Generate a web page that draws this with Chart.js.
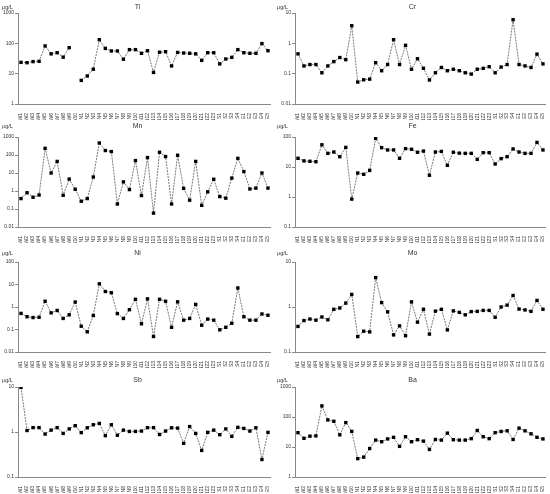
<!DOCTYPE html>
<html>
<head>
<meta charset="utf-8">
<script src="https://cdn.jsdelivr.net/npm/chart.js@4/dist/chart.umd.min.js"></script>
<style>
body { margin: 0; background: #fff; }
#wrap { position: relative; width: 550px; height: 494px; }
#wrap canvas { position: absolute; }
</style>
</head>
<body>
<div id="wrap"></div>
<script>
// sampling sites (x axis tick labels)
const sites = ["W1","W2","W3","W4","W5","W6","W7","W8","W9","W10",
  "N1","N2","N3","N4","N5","N6","N7","N8","N9","N10","N11","N12","N13","N14","N15","N16","N17","N18","N19","N20","N21","N22","N23",
  "S1","S2","S3","S4","E1","E2","E3","E4","E5"];

// concentrations, ug/L
const ti = [23.6,23,25,25.5,82,45,49,35,72,null,
  6,8.4,14,132,68,56,56,30,62,62,47,57,11,51,53,18,50,48,47,45,27.5,49,49,
  21,30.5,34.5,62,49,47,47,98,57];
const cr = [0.45,0.18,0.2,0.2,0.107,0.18,0.25,0.34,0.29,3.8,
  0.053,0.063,0.066,0.23,0.125,0.2,1.32,0.2,0.86,0.14,0.31,0.15,0.062,0.107,0.16,0.125,0.14,0.125,0.107,0.097,0.14,0.15,0.17,
  0.107,0.165,0.2,6,0.2,0.18,0.16,0.44,0.21];
const mn = [0.38,0.8,0.45,0.6,235,10,44,0.58,4.6,1.25,
  0.27,0.38,6,465,177,155,0.19,3.2,1.2,49,0.56,72,0.059,142,82,0.19,97,1.4,0.31,44,0.16,0.9,4.5,
  0.49,0.4,5.2,65,12,1.3,1.45,10,1.45];
const fe = [19.5,16,15.5,15,55,28.5,31.6,22,45,0.85,
  6.3,5.7,7.7,90,44,37,37,19.5,41,39,31,34,5.3,31.6,33,11.4,31,29,28.5,28.5,18,30,30,
  12.6,19,22,40,31.6,28.5,28.5,66,37];
const ni = [0.52,0.37,0.34,0.35,1.8,0.55,0.7,0.31,0.45,1.66,
  0.14,0.079,0.42,10.7,4.9,4.3,0.51,0.31,0.76,2.2,0.18,2.3,0.049,2.2,1.8,0.125,1.7,0.26,0.31,1.3,0.155,0.29,0.26,
  0.097,0.125,0.19,7,0.37,0.26,0.26,0.49,0.43];
const mo = [0.37,0.5,0.54,0.51,0.6,0.52,0.89,0.95,1.22,1.9,
  0.22,0.29,0.28,4.5,1.25,0.78,0.24,0.38,0.23,1.3,0.46,0.89,0.25,0.81,0.89,0.31,0.82,0.76,0.67,0.79,0.8,0.84,0.84,
  0.59,1.0,1.1,1.8,0.9,0.86,0.8,1.4,0.89];
const sb = [9.8,1.08,1.25,1.25,0.9,1.1,1.25,0.93,1.17,1.38,
  0.97,1.24,1.45,1.55,0.83,1.45,0.85,1.1,1.03,1.03,1.05,1.25,1.25,0.88,1.05,1.24,1.22,0.56,1.32,0.93,0.39,0.98,1.1,
  0.87,1.17,0.8,1.27,1.2,1.05,1.24,0.245,0.98];
const ba = [30,19.5,23,23.5,234,80,72,25.5,65,33,
  4.1,4.6,8.9,17,15,18.6,21,10.5,22,15,17.5,15.7,8.3,17.8,17,29,17.5,17,17,19,35.5,22,19,
  30,33,34.6,17.8,42.5,34.6,27.5,21,18.6];

const panels = [
  { title: "Ti", data: ti, min: 1,    max: 1000, col: 0, row: 0 },
  { title: "Cr", data: cr, min: 0.01, max: 10,   col: 1, row: 0 },
  { title: "Mn", data: mn, min: 0.01, max: 1000, col: 0, row: 1 },
  { title: "Fe", data: fe, min: 0.1,  max: 100,  col: 1, row: 1 },
  { title: "Ni", data: ni, min: 0.01, max: 100,  col: 0, row: 2 },
  { title: "Mo", data: mo, min: 0.1,  max: 10,   col: 1, row: 2 },
  { title: "Sb", data: sb, min: 0.1,  max: 10,   col: 0, row: 3 },
  { title: "Ba", data: ba, min: 1,    max: 1000, col: 1, row: 3 }
];

// canvas top, plot top and plot bottom of each row (page px)
const rows = [
  { top: 1,   plotTop: 13,  plotBottom: 104 },
  { top: 120, plotTop: 137, plotBottom: 227 },
  { top: 247, plotTop: 262, plotBottom: 352 },
  { top: 374, plotTop: 387, plotBottom: 477 }
];

const FONT = "'Liberation Sans', Arial, sans-serif";

const panelText = {
  id: "panelText",
  afterDraw(chart, args, opts) {
    const ctx = chart.ctx;
    ctx.save();
    ctx.fillStyle = "#333";
    ctx.textBaseline = "middle";
    ctx.font = "7px " + FONT;
    ctx.textAlign = "center";
    ctx.fillText(opts.title, chart.width / 2, 6);
    ctx.font = "5.5px " + FONT;
    ctx.textAlign = "left";
    ctx.fillText("\u03bcg/L", 2, 6);
    ctx.restore();
  }
};

function isDecade(v) {
  const l = Math.log10(v);
  return Math.abs(l - Math.round(l)) < 1e-6;
}

function makePanel(p) {
  const r = rows[p.row];
  const canvas = document.createElement("canvas");
  canvas.width = 275;
  canvas.height = r.plotBottom + 16 - r.top;
  canvas.style.left = (p.col * 275) + "px";
  canvas.style.top = r.top + "px";
  document.getElementById("wrap").appendChild(canvas);

  new Chart(canvas, {
    type: "line",
    data: {
      labels: sites,
      datasets: [{
        data: p.data,
        borderColor: "#555",
        borderWidth: 0.8,
        borderDash: [2, 1],
        tension: 0,
        spanGaps: false,
        pointStyle: "rect",
        pointRadius: 2.4,
        pointBorderWidth: 0,
        pointBackgroundColor: "#000",
        pointBorderColor: "#000"
      }]
    },
    options: {
      responsive: false,
      animation: false,
      devicePixelRatio: 1,
      layout: { padding: { top: r.plotTop - r.top, right: 3, left: p.col ? 2 : 0, bottom: 0 } },
      plugins: {
        legend: { display: false },
        tooltip: { enabled: false },
        panelText: { title: p.title }
      },
      scales: {
        x: {
          offset: true,
          grid: { display: false },
          border: { color: "#888", width: 1 },
          ticks: {
            autoSkip: false, maxRotation: 90, minRotation: 90, padding: 1,
            color: "#333", font: { size: 5, family: FONT }
          },
          afterFit(s) { s.height = 16; }
        },
        y: {
          type: "logarithmic",
          min: p.min,
          max: p.max,
          grid: { drawOnChartArea: false, tickLength: 3, color: "#888" },
          border: { color: "#888", width: 1 },
          ticks: {
            padding: 1, color: "#333", font: { size: 5, family: FONT },
            callback: v => isDecade(v) ? String(Number(v.toPrecision(1))) : ""
          },
          afterBuildTicks(s) { s.ticks = s.ticks.filter(t => isDecade(t.value)); },
          afterFit(s) { s.width = 18; }
        }
      }
    },
    plugins: [panelText]
  });
}

panels.forEach(makePanel);
</script>
</body>
</html>
